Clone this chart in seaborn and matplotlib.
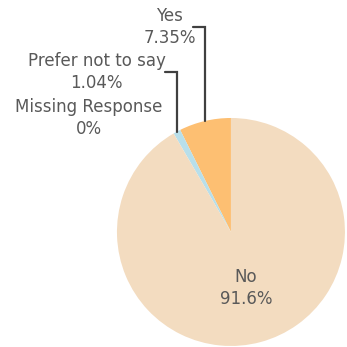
import numpy as np
import matplotlib
matplotlib.use("Agg")
import matplotlib.pyplot as plt
import seaborn as sns

sns.set_theme(style="white")
plt.rcParams['font.family'] = ['DejaVu Sans']

categories = ["Yes", "Prefer not to say", "Missing Response", "No"]
values = [7.35, 1.04, 0.0, 91.61]
pct_labels = ["7.35%", "1.04%", "0%", "91.6%"]
colors = ["#FDBF72", "#B8DFEA", "#F3DCC0", "#F3DCC0"]

text_color = "#595959"
line_color = "#404040"

fig = plt.figure(figsize=(3.47, 3.47), dpi=100)
ax = fig.add_axes([0, 0, 1, 1])
wedges, _ = ax.pie(values, colors=colors, startangle=90, counterclock=True,
                   radius=1.0, wedgeprops=dict(linewidth=0))
ax.set_aspect("equal")
ax.set_xlim(-2.026, 1.018)
ax.set_ylim(-1.009, 2.035)
ax.axis("off")

# label positions (data units, pie radius = 1)
label_pos = [(-0.54, 1.80), (-1.18, 1.40), (-1.25, 1.00), (0.13, -0.49)]
fs = 12

for i, (cat, pct) in enumerate(zip(categories, pct_labels)):
    lx, ly = label_pos[i]
    ax.text(lx, ly, f"{cat}\n{pct}", ha="center", va="center", fontsize=fs,
            color=text_color, linespacing=1.3)

# leader lines for the two small slices
hook = [(1.80, -0.10), (1.40, -0.10)]
for i, (hy, dx) in enumerate(hook):
    w = wedges[i]
    ang = np.deg2rad((w.theta1 + w.theta2) / 2)
    ex, ey = np.cos(ang), np.sin(ang)
    ax.plot([ex + dx, ex, ex], [hy, hy, ey], color=line_color, lw=1.6,
            solid_joinstyle="miter")

fig.savefig("out.png", dpi=100, facecolor="white")
